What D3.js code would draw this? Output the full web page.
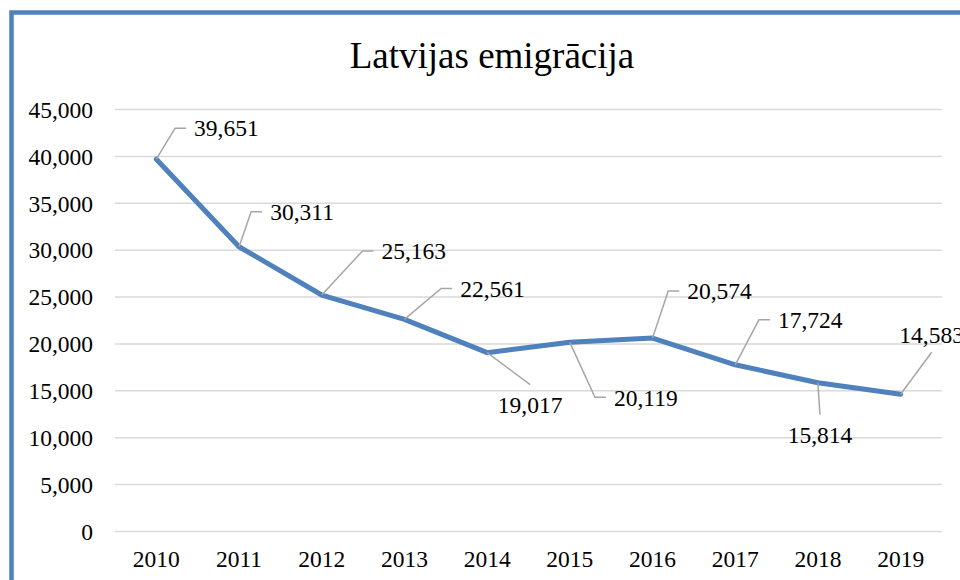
<!DOCTYPE html>
<html>
<head>
<meta charset="utf-8">
<script src="https://cdn.jsdelivr.net/npm/d3@7"></script>
<style>
  body { margin: 0; background: #fff; }
  text { font-family: "Liberation Serif", "Times New Roman", serif; fill: #000; }
  .grid line { stroke: #d9d9d9; stroke-width: 1.5; }
  .grid .domain { display: none; }
  .axis .domain, .axis line { display: none; }
  .axis text { font-size: 23.5px; }
  .label { font-size: 23.5px; }
  .title { font-size: 37px; }
</style>
</head>
<body>
<div id="viz"></div>
<script>
// Latvijas emigracija data
var years = ['2010', '2011', '2012', '2013', '2014', '2015', '2016', '2017', '2018', '2019']
var emigrants = [39651, 30311, 25163, 22561, 19017, 20119, 20574, 17724, 15814, 14583]
var yTicks = [0, 5000, 10000, 15000, 20000, 25000, 30000, 35000, 40000, 45000]

// where each data label sits relative to its point (layout only)
var labelPlace = [
  { dx: 70, dy: -31, side: 'left' },
  { dx: 63, dy: -35, side: 'left' },
  { dx: 92, dy: -44, side: 'left' },
  { dx: 88, dy: -31, side: 'left' },
  { dx: 43, dy: 52, side: 'top' },
  { dx: 76, dy: 55, side: 'left' },
  { dx: 67, dy: -47, side: 'left' },
  { dx: 75, dy: -45, side: 'left' },
  { dx: 2, dy: 52, side: 'top' },
  { dx: 31, dy: -59, side: 'bottom' }
]

let data = years.map((y, i) => ({ year: y, value: emigrants[i] }))

let svg = d3.select('#viz').append('svg')
  .attr('width', 960)
  .attr('height', 580)

// outer chart frame (cut off at the right and bottom)
svg.append('rect')
  .attr('x', 11.5)
  .attr('y', 12.5)
  .attr('width', 1000)
  .attr('height', 1000)
  .attr('fill', 'none')
  .attr('stroke', '#4f81bd')
  .attr('stroke-width', 4.5)

let plotLeft = 115, plotRight = 942, plotTop = 109, plotBottom = 531

let xScale = d3.scaleBand()
  .range([plotLeft, plotRight])
  .domain(years)

let yScale = d3.scaleLinear()
  .range([plotBottom, plotTop])
  .domain([0, 45000])

// horizontal grid lines
svg.append('g')
  .attr('class', 'grid')
  .attr('transform', `translate(${plotLeft}, 0)`)
  .call(d3.axisLeft(yScale)
    .tickValues(yTicks)
    .tickSize(-(plotRight - plotLeft))
    .tickFormat('')
  )

svg.append('g')
  .attr('class', 'axis')
  .attr('transform', 'translate(93, 0)')
  .call(d3.axisLeft(yScale)
    .tickValues(yTicks)
    .tickSize(0)
    .tickPadding(0)
    .tickFormat(d3.format(','))
  )
  .selectAll('text')
  .attr('dy', '0.35em')

svg.append('g')
  .attr('class', 'axis')
  .attr('transform', 'translate(0, 567)')
  .call(d3.axisBottom(xScale).tickSize(0).tickPadding(0))
  .selectAll('text')
  .attr('dy', 0)

let px = (d) => xScale(d.year) + xScale.bandwidth() / 2
let py = (d) => yScale(d.value)

let line = d3.line().x(px).y(py)

svg.append('path')
  .datum(data)
  .attr('d', line)
  .attr('fill', 'none')
  .attr('stroke', '#4f81bd')
  .attr('stroke-width', 5)
  .attr('stroke-linejoin', 'round')
  .attr('stroke-linecap', 'round')

// data labels with leader lines
let fmt = d3.format(',')
let labels = svg.append('g')

data.forEach((d, i) => {
  let p = labelPlace[i]
  let x0 = px(d), y0 = py(d)
  let cx = x0 + p.dx, cy = y0 + p.dy

  let t = labels.append('text')
    .attr('class', 'label')
    .attr('x', cx)
    .attr('y', cy)
    .attr('dy', '0.35em')
    .attr('text-anchor', 'middle')
    .text(fmt(d.value))

  let w = t.node().getComputedTextLength()
  let pts
  if (p.side === 'left') {
    let ex = cx - w / 2 - 8
    pts = [[x0, y0], [ex - 11, cy], [ex, cy]]
  } else if (p.side === 'top') {
    pts = [[x0, y0], [cx, cy - 20]]
  } else {
    pts = [[x0, y0], [cx, cy + 17]]
  }

  labels.append('path')
    .attr('d', d3.line()(pts))
    .attr('fill', 'none')
    .attr('stroke', '#a6a6a6')
    .attr('stroke-width', 1.5)
})

svg.append('text')
  .attr('class', 'title')
  .attr('x', 492)
  .attr('y', 68)
  .attr('text-anchor', 'middle')
  .text('Latvijas emigrācija')
</script>
</body>
</html>
